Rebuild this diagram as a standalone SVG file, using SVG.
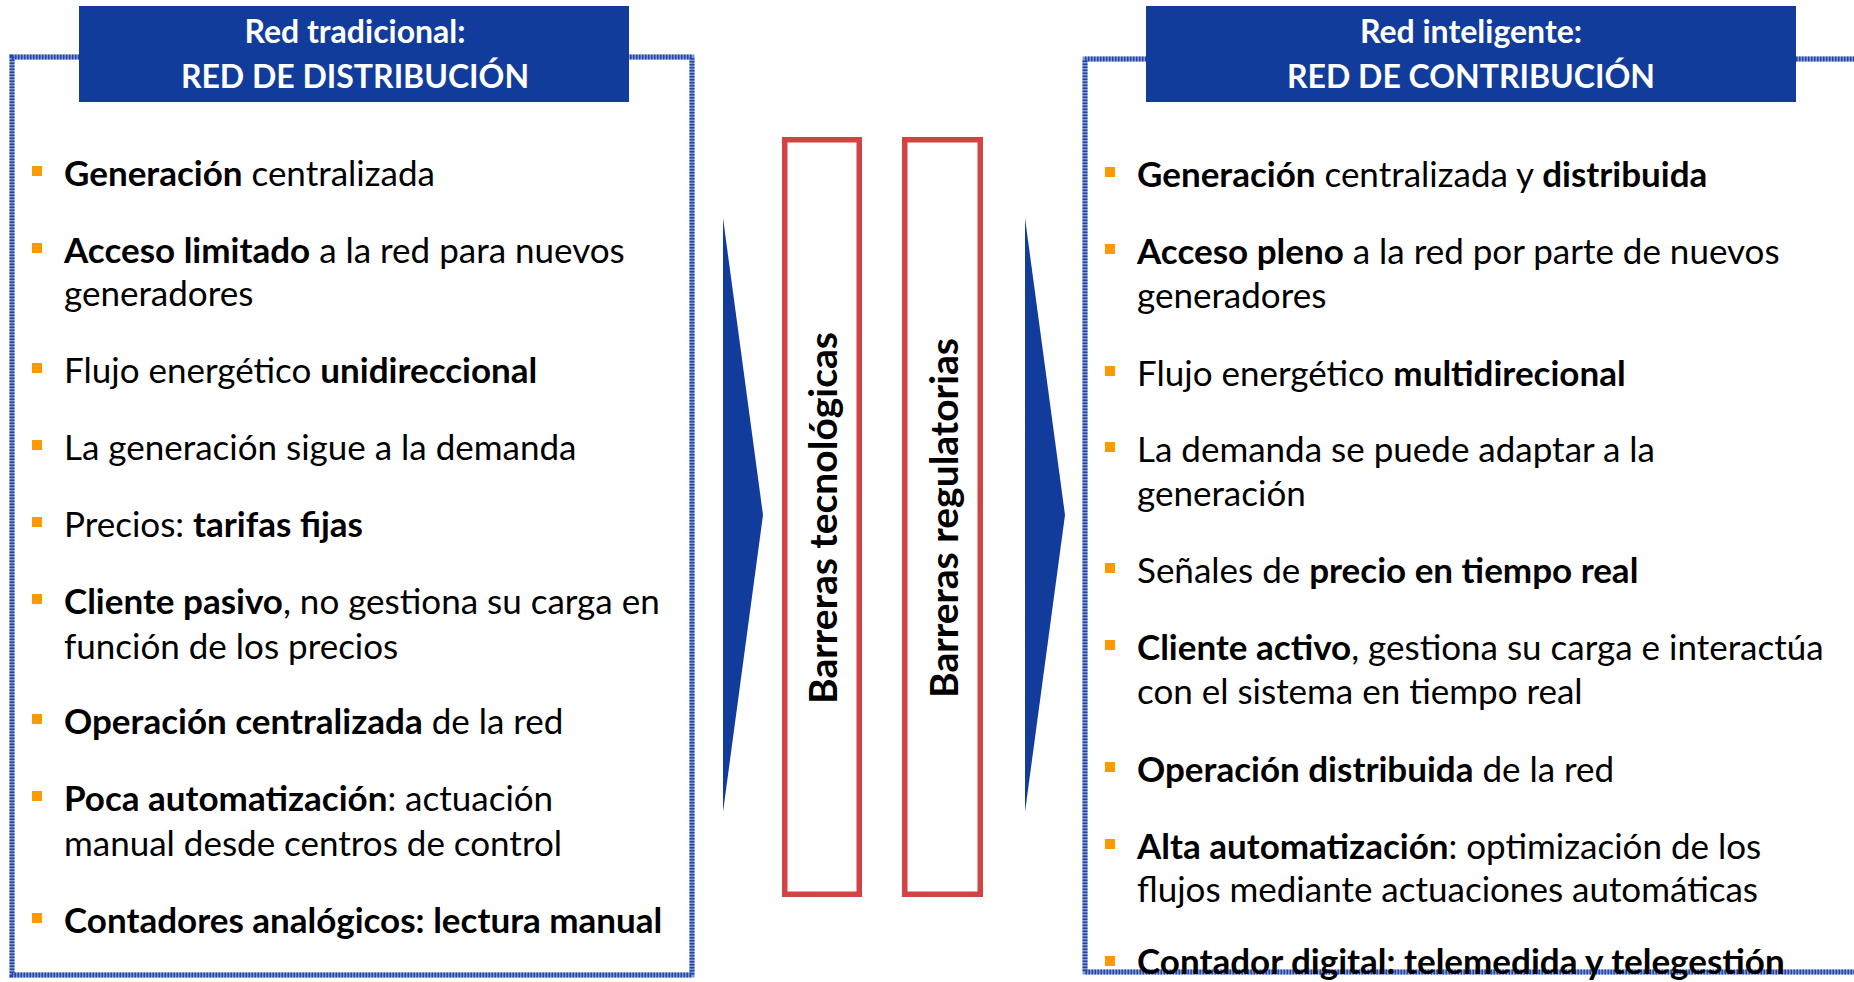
<svg xmlns="http://www.w3.org/2000/svg" width="1854" height="982" viewBox="0 0 1854 982">
<style>
.t{font-family:Lato,"Liberation Sans",sans-serif;font-size:35px;fill:#000}
.b{font-weight:bold}
.h{font-family:Lato,"Liberation Sans",sans-serif;font-size:32px;font-weight:bold;fill:#fff;text-anchor:middle}
.v{font-family:Lato,"Liberation Sans",sans-serif;font-size:39px;font-weight:bold;fill:#000;text-anchor:middle}
.bul{fill:#ff9900}
.frame1{fill:none;stroke:#7f96d2;stroke-width:5}
.frame2{fill:none;stroke:#2446a6;stroke-width:5;stroke-dasharray:1.5 1.5}
.hdr{fill:#123c9c}
.bar{fill:#fff;stroke:#d24343;stroke-width:5.5}
.arr{fill:#123c9c}
</style>
<rect width="1854" height="982" fill="#fff"/>

<g id="left-box">
<rect class="frame1" x="12" y="57" width="680" height="918"/>
<rect class="frame2" x="12" y="57" width="680" height="918"/>
<rect class="hdr" x="79" y="6" width="550" height="96"/>
<text class="h" x="355" y="43">Red tradicional:</text>
<text class="h" x="355" y="88">RED DE DISTRIBUCIÓN</text>
<g>
<rect class="bul" x="32" y="166" width="10" height="10"/>
<rect class="bul" x="32" y="243" width="10" height="10"/>
<rect class="bul" x="32" y="363" width="10" height="10"/>
<rect class="bul" x="32" y="440" width="10" height="10"/>
<rect class="bul" x="32" y="517" width="10" height="10"/>
<rect class="bul" x="32" y="594" width="10" height="10"/>
<rect class="bul" x="32" y="714" width="10" height="10"/>
<rect class="bul" x="32" y="791" width="10" height="10"/>
<rect class="bul" x="32" y="913" width="10" height="10"/>
</g>
<text class="t" x="64" y="186"><tspan class="b">Generación</tspan> centralizada</text>
<text class="t" x="64" y="263"><tspan class="b">Acceso limitado</tspan> a la red para nuevos</text>
<text class="t" x="64" y="306">generadores</text>
<text class="t" x="64" y="383">Flujo energético <tspan class="b">unidireccional</tspan></text>
<text class="t" x="64" y="460">La generación sigue a la demanda</text>
<text class="t" x="64" y="537">Precios: <tspan class="b">tarifas fijas</tspan></text>
<text class="t" x="64" y="614"><tspan class="b">Cliente pasivo</tspan>, no gestiona su carga en</text>
<text class="t" x="64" y="659">función de los precios</text>
<text class="t" x="64" y="734"><tspan class="b">Operación centralizada</tspan> de la red</text>
<text class="t" x="64" y="811"><tspan class="b">Poca automatización</tspan>: actuación</text>
<text class="t" x="64" y="856">manual desde centros de control</text>
<text class="t b" x="64" y="933">Contadores analógicos: lectura manual</text>
</g>

<g id="right-box">
<rect class="frame1" x="1085" y="59" width="800" height="913"/>
<rect class="frame2" x="1085" y="59" width="800" height="913"/>
<rect class="hdr" x="1146" y="6" width="650" height="96"/>
<text class="h" x="1471" y="43">Red inteligente:</text>
<text class="h" x="1471" y="88">RED DE CONTRIBUCIÓN</text>
<g>
<rect class="bul" x="1105" y="167" width="10" height="10"/>
<rect class="bul" x="1105" y="244" width="10" height="10"/>
<rect class="bul" x="1105" y="366" width="10" height="10"/>
<rect class="bul" x="1105" y="442" width="10" height="10"/>
<rect class="bul" x="1105" y="563" width="10" height="10"/>
<rect class="bul" x="1105" y="640" width="10" height="10"/>
<rect class="bul" x="1105" y="762" width="10" height="10"/>
<rect class="bul" x="1105" y="839" width="10" height="10"/>
<rect class="bul" x="1105" y="956" width="10" height="10"/>
</g>
<text class="t" x="1137" y="187"><tspan class="b">Generación</tspan> centralizada y <tspan class="b">distribuida</tspan></text>
<text class="t" x="1137" y="264"><tspan class="b">Acceso pleno</tspan> a la red por parte de nuevos</text>
<text class="t" x="1137" y="308">generadores</text>
<text class="t" x="1137" y="386">Flujo energético <tspan class="b">multidirecional</tspan></text>
<text class="t" x="1137" y="462">La demanda se puede adaptar a la</text>
<text class="t" x="1137" y="506">generación</text>
<text class="t" x="1137" y="583">Señales de <tspan class="b">precio en tiempo real</tspan></text>
<text class="t" x="1137" y="660"><tspan class="b">Cliente activo</tspan>, gestiona su carga e interactúa</text>
<text class="t" x="1137" y="704">con el sistema en tiempo real</text>
<text class="t" x="1137" y="782"><tspan class="b">Operación distribuida</tspan> de la red</text>
<text class="t" x="1137" y="859"><tspan class="b">Alta automatización</tspan>: optimización de los</text>
<text class="t" x="1137" y="902">flujos mediante actuaciones automáticas</text>
<text class="t b" x="1137" y="974">Contador digital: telemedida y telegestión</text>
</g>

<g id="barrera-tecnologica">
<rect class="bar" x="784.75" y="139.75" width="74.5" height="754.5"/>
<text class="v" transform="translate(837 518) rotate(-90)">Barreras tecnológicas</text>
</g>
<g id="barrera-regulatoria">
<rect class="bar" x="904.75" y="139.75" width="75.5" height="754.5"/>
<text class="v" transform="translate(958 518) rotate(-90)">Barreras regulatorias</text>
</g>

<g id="connectors">
<polygon class="arr" points="723,218 763,515 723,812"/>
<polygon class="arr" points="1025,218 1065,515 1025,812"/>
</g>
</svg>
